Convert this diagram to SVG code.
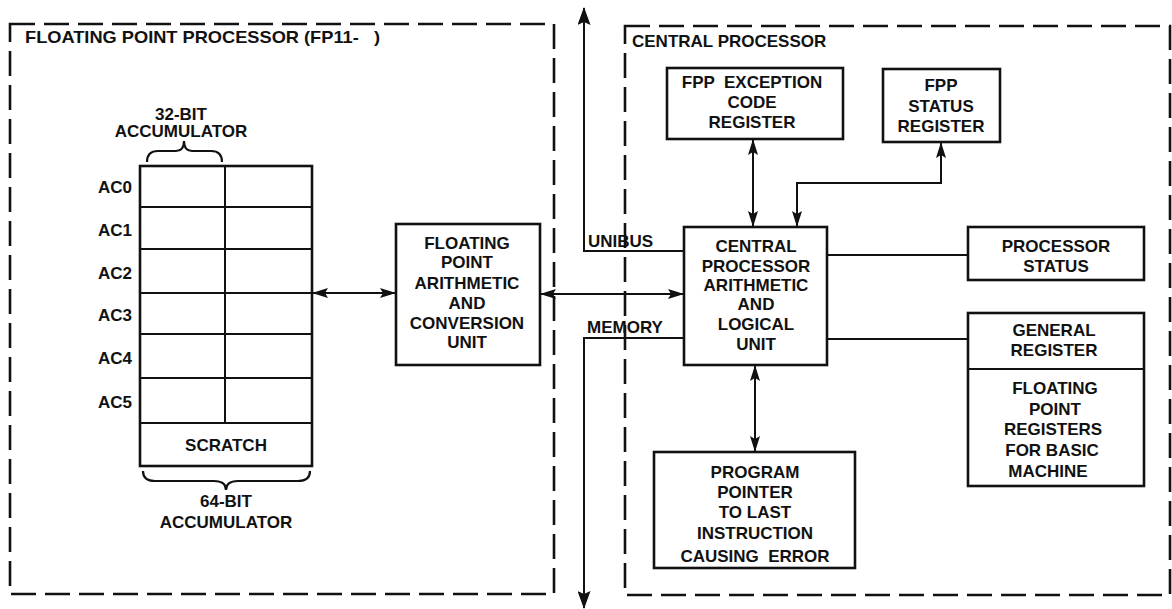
<svg xmlns="http://www.w3.org/2000/svg" width="1172" height="609" viewBox="0 0 1172 609">
<defs>
<style>
.t{font-family:"Liberation Sans",Arial,sans-serif;font-weight:bold;font-size:17px;fill:#111;text-anchor:middle}
.l{text-anchor:start}
.e{text-anchor:end}
.box{fill:#fff;stroke:#111;stroke-width:2.6}
.dash{fill:none;stroke:#111;stroke-width:2.6;stroke-dasharray:25 9}
.ln{fill:none;stroke:#111;stroke-width:2}
.br{fill:none;stroke:#111;stroke-width:2.2}
</style>
<marker id="ah" viewBox="0 0 16 11" refX="15" refY="5.5" markerWidth="16" markerHeight="11" markerUnits="userSpaceOnUse" orient="auto-start-reverse">
<path d="M0,0.5 L16,5.5 L0,10.5 L3,5.5 z" fill="#111"/>
</marker>
<marker id="big" viewBox="0 0 18 13" refX="17" refY="6.5" markerWidth="18" markerHeight="13" markerUnits="userSpaceOnUse" orient="auto">
<path d="M0,0 L18,6.5 L0,13 L3,6.5 z" fill="#111"/>
</marker>
</defs>
<rect width="1172" height="609" fill="#fff"/>

<g id="fpp-frame">
<rect class="dash" x="10" y="24" width="544" height="570"/>
<text class="t l" x="25" y="43" font-size="18.5" textLength="355" lengthAdjust="spacingAndGlyphs" xml:space="preserve">FLOATING POINT PROCESSOR (FP11-   )</text>
</g>

<g id="cp-frame">
<rect class="dash" x="625" y="26" width="545" height="569"/>
<text class="t l" x="632" y="47" font-size="18">CENTRAL PROCESSOR</text>
</g>

<g id="accumulators">
<text class="t" x="181" y="120">32-BIT</text>
<text class="t" x="181" y="137">ACCUMULATOR</text>
<path class="br" d="M147,162 Q147,151 158,151 L176,151 Q184,151 184,141 Q184,151 192,151 L211,151 Q222,151 222,162"/>
<rect class="box" x="140" y="166" width="172" height="300"/>
<path class="ln" stroke-width="2.6" d="M140,207 H312 M140,249 H312 M140,293 H312 M140,334 H312 M140,378 H312 M140,423 H312 M225,166 V423"/>
<text class="t e" x="132" y="193">AC0</text>
<text class="t e" x="132" y="236">AC1</text>
<text class="t e" x="132" y="279">AC2</text>
<text class="t e" x="132" y="321">AC3</text>
<text class="t e" x="132" y="364">AC4</text>
<text class="t e" x="132" y="408">AC5</text>
<text class="t" x="226" y="451">SCRATCH</text>
<path class="br" d="M143,471 Q143,481 155,481 L214,481 Q226,481 226,490 Q226,481 238,481 L298,481 Q310,481 310,471"/>
<text class="t" x="226" y="507">64-BIT</text>
<text class="t" x="226" y="528">ACCUMULATOR</text>
</g>

<g id="fp-unit">
<rect class="box" x="396" y="224" width="144" height="141"/>
<text class="t" x="467" y="249">FLOATING</text>
<text class="t" x="467" y="268">POINT</text>
<text class="t" x="467" y="289">ARITHMETIC</text>
<text class="t" x="467" y="309">AND</text>
<text class="t" x="467" y="329">CONVERSION</text>
<text class="t" x="467" y="348">UNIT</text>
</g>

<g id="cpu">
<rect class="box" x="684" y="227" width="143" height="138"/>
<text class="t" x="756" y="252">CENTRAL</text>
<text class="t" x="756" y="272">PROCESSOR</text>
<text class="t" x="756" y="291">ARITHMETIC</text>
<text class="t" x="756" y="310">AND</text>
<text class="t" x="756" y="330">LOGICAL</text>
<text class="t" x="756" y="350">UNIT</text>
</g>

<g id="fpp-exception">
<rect class="box" x="667" y="68" width="176" height="71"/>
<text class="t" x="752" y="88" xml:space="preserve">FPP  EXCEPTION</text>
<text class="t" x="752" y="108">CODE</text>
<text class="t" x="752" y="128">REGISTER</text>
</g>

<g id="fpp-status">
<rect class="box" x="883" y="69" width="117" height="73"/>
<text class="t" x="941" y="91">FPP</text>
<text class="t" x="941" y="112">STATUS</text>
<text class="t" x="941" y="132">REGISTER</text>
</g>

<g id="processor-status">
<rect class="box" x="968" y="227" width="176" height="53"/>
<text class="t" x="1056" y="252">PROCESSOR</text>
<text class="t" x="1056" y="272">STATUS</text>
</g>

<g id="general-register">
<rect class="box" x="968" y="313" width="176" height="173"/>
<path class="ln" stroke-width="2.6" d="M968,369 H1144"/>
<text class="t" x="1054" y="336">GENERAL</text>
<text class="t" x="1054" y="356">REGISTER</text>
<text class="t" x="1055" y="394">FLOATING</text>
<text class="t" x="1055" y="415">POINT</text>
<text class="t" x="1053" y="435">REGISTERS</text>
<text class="t" x="1052" y="456">FOR BASIC</text>
<text class="t" x="1048" y="477">MACHINE</text>
</g>

<g id="program-pointer">
<rect class="box" x="654" y="452" width="201" height="116"/>
<text class="t" x="755" y="478">PROGRAM</text>
<text class="t" x="755" y="498">POINTER</text>
<text class="t" x="755" y="518">TO LAST</text>
<text class="t" x="755" y="539">INSTRUCTION</text>
<text class="t" x="755" y="562" xml:space="preserve">CAUSING  ERROR</text>
</g>

<g id="connectors">
<path class="ln" d="M313,293 H395" marker-start="url(#ah)" marker-end="url(#ah)"/>
<path class="ln" d="M541,294 H683" marker-start="url(#ah)" marker-end="url(#ah)"/>
<path class="ln" d="M684,251 H584 V8" marker-end="url(#big)"/>
<path class="ln" d="M684,338 H584 V608" marker-end="url(#big)"/>
<path class="ln" d="M753,140 V226" marker-start="url(#ah)" marker-end="url(#ah)"/>
<path class="ln" d="M797,226 V183 H941 V143" marker-start="url(#ah)" marker-end="url(#ah)"/>
<path class="ln" d="M755,366 V451" marker-start="url(#ah)" marker-end="url(#ah)"/>
<path class="ln" d="M827,255 H968"/>
<path class="ln" d="M827,339 H968"/>
<text class="t l" x="588" y="247">UNIBUS</text>
<text class="t l" x="587" y="333">MEMORY</text>
</g>
</svg>
